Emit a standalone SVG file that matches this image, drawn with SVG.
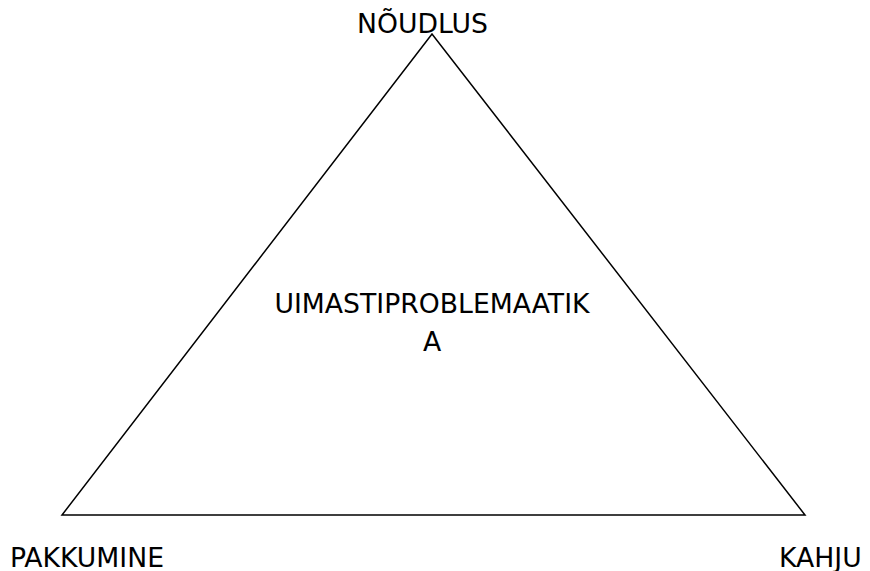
<svg xmlns="http://www.w3.org/2000/svg" width="870" height="571" viewBox="0 0 870 571">
<style>
text{font-family:"DejaVu Sans",Verdana,sans-serif;font-size:26.67px;fill:#000}
.edge{fill:none;stroke:#000;stroke-width:1.5}
</style>
<rect width="870" height="571" fill="#fff"/>
<g id="connectors">
<polygon class="edge" points="432,34 62,515 805,515"/>
</g>
<g id="center"><text x="432" y="313" text-anchor="middle">UIMASTIPROBLEMAATIK</text><text x="432" y="351" text-anchor="middle">A</text></g>
<g id="noudlus"><text x="357" y="33">NÕUDLUS</text></g>
<g id="pakkumine"><text x="10" y="567">PAKKUMINE</text></g>
<g id="kahju"><text x="779" y="567">KAHJU</text></g>
</svg>
